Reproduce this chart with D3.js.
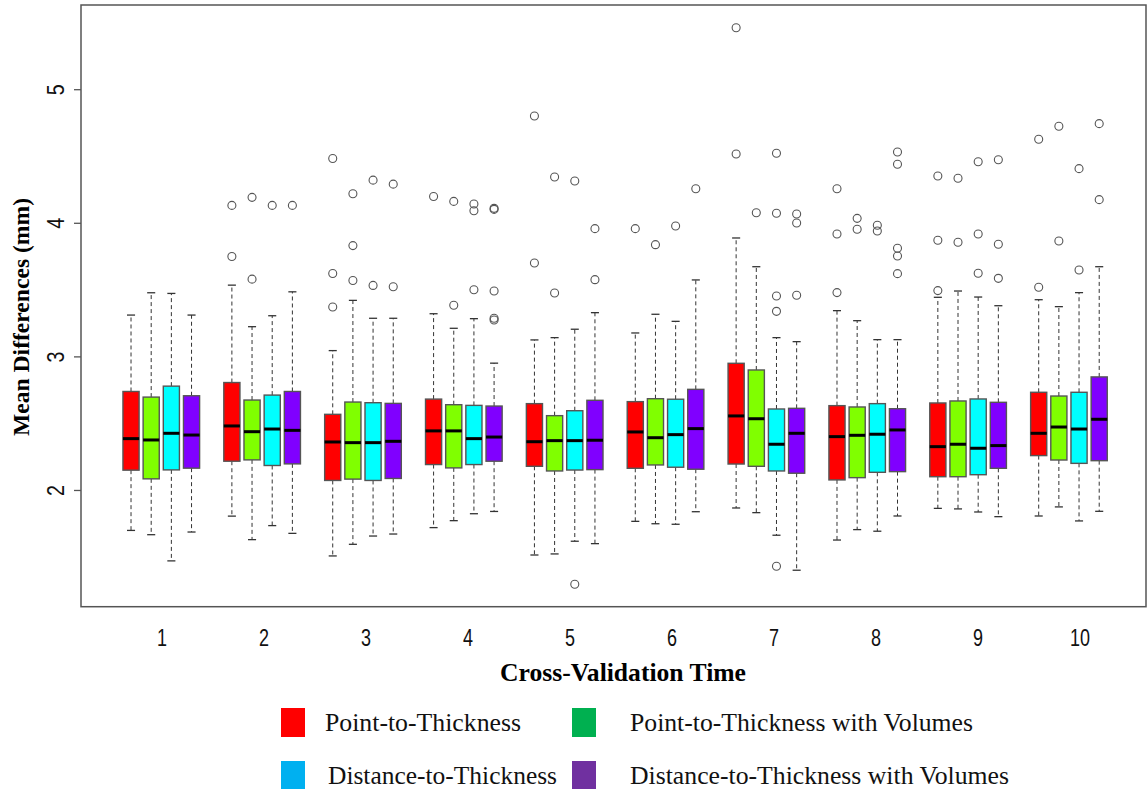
<!DOCTYPE html>
<html>
<head>
<meta charset="utf-8">
<script src="https://cdn.jsdelivr.net/npm/d3@7"></script>
<style>
  body { margin: 0; background: #fff; }
  svg { display: block; }
</style>
</head>
<body>
<div id="container"></div>
<script>
/* CONSTANTS AND DATA */
const width = 1148, height = 789;

const groups = [1, 2, 3, 4, 5, 6, 7, 8, 9, 10];
const seriesNames = ["Point-to-Thickness", "Point-to-Thickness with Volumes",
  "Distance-to-Thickness", "Distance-to-Thickness with Volumes"];
const boxColors = ["#ff0000", "#80ff00", "#00ffff", "#8000ff"];
const legendColors = ["#ff0000", "#00b050", "#00b0f0", "#7030a0"];
const yTicks = [2, 3, 4, 5];

// [lower whisker, q1, median, q3, upper whisker] per cross-validation time
const pointStats = [
  [1.701, 2.152, 2.388, 2.741, 3.313], [1.808, 2.219, 2.483, 2.808, 3.537],
  [1.510, 2.075, 2.363, 2.570, 3.047], [1.722, 2.194, 2.446, 2.684, 3.323],
  [1.517, 2.181, 2.365, 2.650, 3.127], [1.769, 2.166, 2.438, 2.665, 3.179],
  [1.869, 2.198, 2.558, 2.952, 3.890], [1.629, 2.079, 2.403, 2.635, 3.346],
  [1.866, 2.103, 2.328, 2.655, 3.446], [1.809, 2.261, 2.428, 2.735, 3.428]];
const pointOut = [[], [4.134, 3.751], [4.485, 3.624, 3.373], [4.201], [4.803, 3.703],
  [3.960], [5.464, 4.519], [4.259, 3.920, 3.481], [4.354, 3.873, 3.496], [4.629, 3.521]];

const pointVolStats = [
  [1.669, 2.087, 2.378, 2.699, 3.480], [1.632, 2.229, 2.440, 2.677, 3.226],
  [1.597, 2.085, 2.358, 2.662, 3.423], [1.774, 2.169, 2.446, 2.642, 3.214],
  [1.525, 2.146, 2.373, 2.560, 3.144], [1.751, 2.191, 2.395, 2.687, 3.319],
  [1.834, 2.181, 2.537, 2.902, 3.675], [1.707, 2.096, 2.413, 2.625, 3.271],
  [1.862, 2.103, 2.346, 2.670, 3.493], [1.877, 2.228, 2.475, 2.707, 3.376]];
const pointVolOut = [[], [4.194, 3.582], [4.221, 3.833, 3.572], [4.164, 3.386], [4.347, 3.478],
  [3.840], [4.079], [4.037, 3.955], [4.337, 3.858], [4.726, 3.867]];

const distStats = [
  [1.473, 2.154, 2.428, 2.781, 3.475], [1.737, 2.187, 2.460, 2.714, 3.308],
  [1.659, 2.075, 2.358, 2.657, 3.289], [1.826, 2.194, 2.388, 2.637, 3.286],
  [1.620, 2.153, 2.373, 2.597, 3.207], [1.747, 2.174, 2.418, 2.683, 3.266],
  [1.665, 2.146, 2.346, 2.610, 3.144], [1.695, 2.136, 2.421, 2.650, 3.129],
  [1.839, 2.118, 2.316, 2.685, 3.448], [1.772, 2.203, 2.460, 2.735, 3.481]];
const distOut = [[], [4.134], [4.323, 3.535], [4.144, 4.094, 3.503], [4.317, 1.298],
  [3.980], [4.524, 4.075, 3.456, 3.341, 1.433], [3.985, 3.942], [4.461, 3.920, 3.626], [4.409, 3.650]];

const distVolStats = [
  [1.689, 2.167, 2.415, 2.709, 3.313], [1.679, 2.199, 2.450, 2.741, 3.487],
  [1.674, 2.090, 2.368, 2.652, 3.289], [1.843, 2.219, 2.400, 2.632, 2.953],
  [1.602, 2.156, 2.376, 2.675, 3.331], [1.841, 2.159, 2.463, 2.757, 3.576],
  [1.403, 2.129, 2.428, 2.615, 3.114], [1.809, 2.141, 2.453, 2.612, 3.129],
  [1.804, 2.166, 2.336, 2.660, 3.383], [1.844, 2.223, 2.533, 2.850, 3.675]];
const distVolOut = [[], [4.134], [4.293, 3.525], [4.112, 4.104, 3.493, 3.289, 3.276], [3.960, 3.578],
  [4.259], [4.070, 4.002, 3.461], [4.534, 4.442, 3.813, 3.755, 3.623], [4.476, 3.843, 3.588], [4.746, 4.177]];

const allStats = [pointStats, pointVolStats, distStats, distVolStats];
const allOut = [pointOut, pointVolOut, distOut, distVolOut];

// flatten into box records
const boxes = [];
allStats.forEach((stats, s) => {
  stats.forEach((st, g) => {
    boxes.push({ s, g, slot: g * 5 + s, lo: st[0], q1: st[1], med: st[2], q3: st[3], hi: st[4], out: allOut[s][g] });
  });
});
const outliers = boxes.flatMap(b => b.out.map(v => ({ slot: b.slot, v })));

/* SVG */
const svg = d3.select("#container").append("svg")
  .attr("width", width)
  .attr("height", height)
  .style("font-family", "'Liberation Serif', 'Times New Roman', serif");

/* SCALES */
const xScale = d3.scaleLinear().domain([-2.48, 50.32]).range([81, 1146]);
const yScale = d3.scaleLinear().domain([1.130, 5.634]).range([606.7, 5]);
const labelScale = d3.scaleLinear().domain([1, 10]).range([162, 1080]);
const boxW = xScale(0.8) - xScale(0);
const capW = xScale(0.4) - xScale(0);

/* BOXES */
const bx = svg.append("g");

// dashed whiskers
bx.selectAll(".wh-up").data(boxes).join("line")
  .attr("x1", d => xScale(d.slot)).attr("x2", d => xScale(d.slot))
  .attr("y1", d => yScale(d.q3)).attr("y2", d => yScale(d.hi))
  .attr("stroke", "#333").attr("stroke-width", 1).attr("stroke-dasharray", "4,3");
bx.selectAll(".wh-lo").data(boxes).join("line")
  .attr("x1", d => xScale(d.slot)).attr("x2", d => xScale(d.slot))
  .attr("y1", d => yScale(d.q1)).attr("y2", d => yScale(d.lo))
  .attr("stroke", "#333").attr("stroke-width", 1).attr("stroke-dasharray", "4,3");

// caps
bx.selectAll(".cap-hi").data(boxes).join("line")
  .attr("x1", d => xScale(d.slot) - capW / 2).attr("x2", d => xScale(d.slot) + capW / 2)
  .attr("y1", d => yScale(d.hi)).attr("y2", d => yScale(d.hi))
  .attr("stroke", "#333").attr("stroke-width", 1.3);
bx.selectAll(".cap-lo").data(boxes).join("line")
  .attr("x1", d => xScale(d.slot) - capW / 2).attr("x2", d => xScale(d.slot) + capW / 2)
  .attr("y1", d => yScale(d.lo)).attr("y2", d => yScale(d.lo))
  .attr("stroke", "#333").attr("stroke-width", 1.3);

// boxes
bx.selectAll(".box").data(boxes).join("rect")
  .attr("x", d => xScale(d.slot) - boxW / 2)
  .attr("width", boxW)
  .attr("y", d => yScale(d.q3))
  .attr("height", d => yScale(d.q1) - yScale(d.q3))
  .attr("fill", d => boxColors[d.s])
  .attr("stroke", "#555").attr("stroke-width", 1.4);

// medians
bx.selectAll(".med").data(boxes).join("line")
  .attr("x1", d => xScale(d.slot) - boxW / 2).attr("x2", d => xScale(d.slot) + boxW / 2)
  .attr("y1", d => yScale(d.med)).attr("y2", d => yScale(d.med))
  .attr("stroke", "#000").attr("stroke-width", 3);

// outliers
bx.selectAll(".out").data(outliers).join("circle")
  .attr("cx", d => xScale(d.slot)).attr("cy", d => yScale(d.v))
  .attr("r", 4).attr("fill", "none")
  .attr("stroke", "#555").attr("stroke-width", 1.1);

/* FRAME AND AXES */
svg.append("rect")
  .attr("x", 81).attr("y", 5).attr("width", 1146 - 81).attr("height", 606.7 - 5)
  .attr("fill", "none").attr("stroke", "#555").attr("stroke-width", 1.5);

svg.selectAll(".ytick").data(yTicks).join("line")
  .attr("x1", 74).attr("x2", 81)
  .attr("y1", d => yScale(d)).attr("y2", d => yScale(d))
  .attr("stroke", "#555").attr("stroke-width", 1.3);

svg.selectAll(".ylab").data(yTicks).join("text")
  .attr("transform", d => `translate(64,${yScale(d)}) rotate(-90)`)
  .attr("text-anchor", "middle")
  .attr("font-family", "'Liberation Sans', Arial, sans-serif")
  .attr("font-size", 23)
  .attr("textLength", 11).attr("lengthAdjust", "spacingAndGlyphs")
  .attr("fill", "#111")
  .text(d => d);

svg.selectAll(".xlab").data(groups).join("text")
  .attr("x", d => labelScale(d)).attr("y", 646)
  .attr("text-anchor", "middle")
  .attr("font-family", "'Liberation Sans', Arial, sans-serif")
  .attr("font-size", 23)
  .attr("textLength", d => String(d).length * 10).attr("lengthAdjust", "spacingAndGlyphs")
  .attr("fill", "#111")
  .text(d => d);

svg.append("text")
  .attr("x", 623).attr("y", 681)
  .attr("text-anchor", "middle")
  .attr("font-weight", "bold").attr("font-size", 25)
  .attr("textLength", 246).attr("lengthAdjust", "spacingAndGlyphs")
  .text("Cross-Validation Time");

svg.append("text")
  .attr("transform", "translate(29,317) rotate(-90)")
  .attr("text-anchor", "middle")
  .attr("font-weight", "bold").attr("font-size", 24)
  .attr("textLength", 238).attr("lengthAdjust", "spacingAndGlyphs")
  .text("Mean Differences (mm)");

/* LEGEND */
const legendX = [281, 572, 281, 572];
const legendY = [708, 708, 761, 761];
const legendTextX = [325, 630, 328, 630];
const legendTextW = [196, 343, 229, 379];
const lg = svg.append("g");
lg.selectAll("rect").data(seriesNames).join("rect")
  .attr("x", (d, i) => legendX[i]).attr("y", (d, i) => legendY[i])
  .attr("width", 24).attr("height", 29)
  .attr("fill", (d, i) => legendColors[i]);
lg.selectAll("text").data(seriesNames).join("text")
  .attr("x", (d, i) => legendTextX[i]).attr("y", (d, i) => legendY[i] + 23)
  .attr("font-size", 25)
  .attr("textLength", (d, i) => legendTextW[i]).attr("lengthAdjust", "spacingAndGlyphs")
  .attr("fill", "#111")
  .text(d => d);
</script>
</body>
</html>
